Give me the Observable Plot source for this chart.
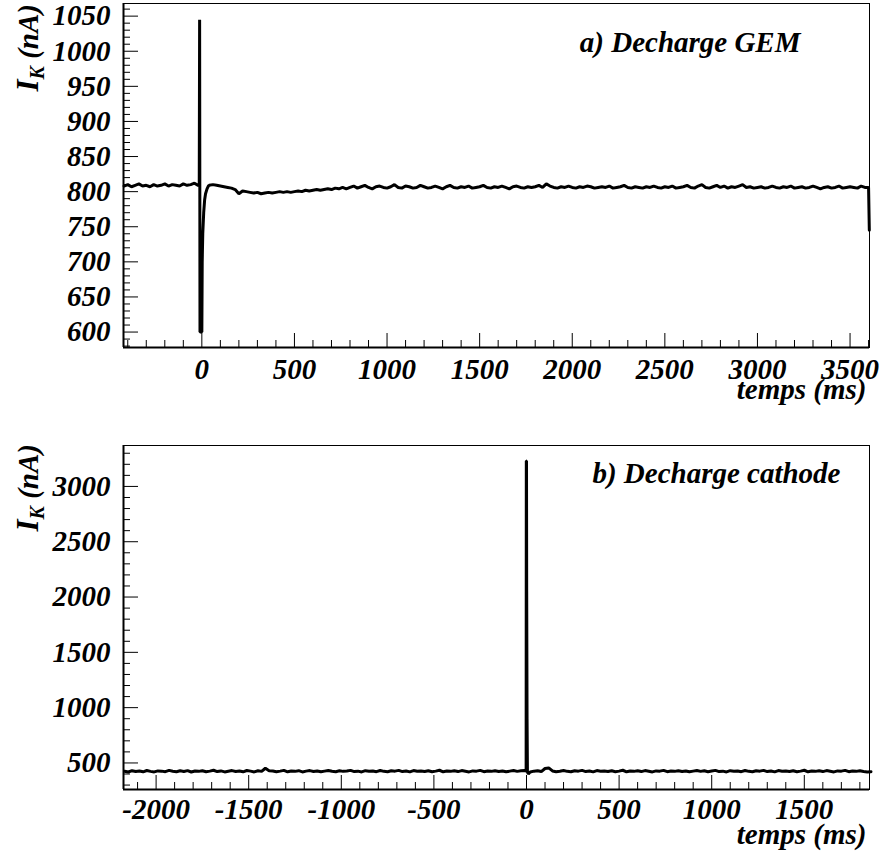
<!DOCTYPE html>
<html><head><meta charset="utf-8">
<script src="https://cdn.jsdelivr.net/npm/d3@7"></script>
<script src="https://cdn.jsdelivr.net/npm/@observablehq/plot@0.6"></script>
<style>
body{margin:0;background:#fff}
#chart svg{display:block}
</style>
</head><body><div id="chart"></div>
<script>
// ---------- Panel a) Decharge GEM ----------
// regular samples every 20 ms from -420 to -20 ms
const gemPreStart = -420, gemStep = 20;
const gemPreValues = [808,810,807,809,811,808,809,807,810,808,809,811,808,810,809,808,811,809,810,812,809];
// discharge region (explicit times)
const gemSpikeT = [-14,-12,-10,-7,-5,-3,0,2,5,10,15,20,28,35];
const gemSpikeV = [809,1045,600,600,705,600,600,700,740,770,788,797,804,808];
// regular samples every 20 ms from 40 to 3600 ms
const gemPostStart = 40;
const gemPostValues = [
  809,810,809,808,807,806,805,803,
  797,801,800,799,798,799,797,798,799,798,799,800,799,800,799,
  800,801,800,802,801,802,803,802,803,804,803,805,804,806,804,
  806,808,805,807,809,806,804,807,808,806,
  805,807,810,806,805,808,807,805,806,809,
  807,805,806,808,806,804,807,809,806,805,
  807,806,808,805,806,807,809,806,805,807,
  806,808,806,804,807,808,806,805,807,806,
  807,809,806,811,808,806,805,807,806,808,
  806,805,807,806,808,807,805,806,807,806,
  808,805,806,807,809,806,805,807,806,805,
  807,806,808,806,805,807,806,808,805,806,
  807,809,806,805,808,810,806,805,807,809,
  806,808,805,807,806,808,810,806,807,805,
  806,807,805,806,808,806,805,807,806,808,
  805,806,807,805,806,808,806,804,806,807,
  805,806,808,805,806,807,806,805,808,806,
  806
];
const gemTailT = [3604];
const gemTailV = [745];

const gemXMajor = [0,500,1000,1500,2000,2500,3000,3500];
const gemYMajor = [600,650,700,750,800,850,900,950,1000,1050];

// ---------- Panel b) Decharge cathode ----------
const catPreStart = -2170, catStep = 20;
const catPreValues = [
  425,418,430,422,427,420,432,424,419,428,
  426,421,433,425,420,429,423,431,418,427,
  424,430,421,426,434,422,428,419,425,431,
  423,427,420,432,426,419,429,424,452,430,
  428,421,426,433,420,427,424,430,419,426,
  431,423,428,420,426,432,425,421,429,424,
  427,433,422,426,419,430,425,428,421,432,
  424,420,429,426,433,422,427,419,431,425,
  428,423,430,421,426,434,420,427,424,429,
  422,431,425,419,428,426,433,421,427,424,
  430,423,428,420,426,432,424,429,431
];
const catSpikeT = [-2,-1,0,1,3,5,10];
const catSpikeV = [428,3230,3230,2050,900,420,400];
const catPostStart = 20;
const catPostValues = [
  418,426,430,422,450,455,428,421,425,431,
  424,420,429,426,433,422,427,419,431,425,
  428,423,430,421,426,434,420,427,424,429,
  422,431,425,419,428,426,433,421,427,424,
  430,423,428,420,426,432,424,429,421,427,
  433,422,426,419,430,425,428,421,432,424,
  420,429,426,433,422,427,419,431,425,428,
  423,430,421,426,434,420,427,424,429,422,
  431,425,419,428,426,433,421,427,424,430,
  423,418,421
];
const catXMajor = [-2000,-1500,-1000,-500,0,500,1000,1500];
const catYMajor = [500,1000,1500,2000,2500,3000];

// ---------- build rows ----------
function buildRows(preStart, step, pre, spikeT, spikeV, postStart, post, tailT = [], tailV = []) {
  const rows = [];
  pre.forEach((v, i) => rows.push({t: preStart + i * step, v}));
  spikeT.forEach((t, i) => rows.push({t, v: spikeV[i]}));
  post.forEach((v, i) => rows.push({t: postStart + i * step, v}));
  tailT.forEach((t, i) => rows.push({t, v: tailV[i]}));
  return rows;
}
const gemRows = buildRows(gemPreStart, gemStep, gemPreValues, gemSpikeT, gemSpikeV, gemPostStart, gemPostValues, gemTailT, gemTailV);
const catRows = buildRows(catPreStart, catStep, catPreValues, catSpikeT, catSpikeV, catPostStart, catPostValues);

function minorTicks(lo, hi, step, majors) {
  return d3.range(Math.ceil(lo / step) * step, hi, step).filter(d => !majors.includes(d));
}

const FONT = "font-family:'Liberation Serif','Times New Roman',serif;font-style:italic;font-weight:bold;font-size:29px;background:#fff;overflow:visible";

function panel({rows, xDomain, yDomain, xMajor, xMinor, yMajor, yMinor, title, titleDx, titleDy, xlabDy, xPad, height, marginTop, marginBottom, ylabY}) {
  const svg = Plot.plot({
    width: 881, height, marginTop, marginBottom, marginLeft: 123, marginRight: 12,
    style: FONT,
    x: {domain: xDomain, label: null},
    y: {domain: yDomain, label: null},
    marks: [
      Plot.frame({stroke: "black", strokeWidth: 1}),
      Plot.ruleX([xDomain[0]], {stroke: "black", strokeWidth: 2}),
      Plot.ruleY([yDomain[0]], {stroke: "black", strokeWidth: 2}),
      Plot.axisX(xMajor, {tickSize: 14, dy: -14, fill: "none", tickFormat: () => "", label: null}),
      Plot.axisX(xMinor, {tickSize: 7, dy: -7, fill: "none", tickFormat: () => "", label: null}),
      Plot.axisY(yMajor, {tickSize: 15, dx: 15, fill: "none", tickFormat: () => "", label: null}),
      Plot.axisY(yMinor, {tickSize: 7, dx: 7, fill: "none", tickFormat: () => "", label: null}),
      Plot.axisX(xMajor, {tickSize: 0, tickPadding: xPad, tickFormat: d => String(d), label: null, fill: "black"}),
      Plot.axisY(yMajor, {tickSize: 0, tickPadding: 13, tickFormat: d => String(d), label: null, fill: "black"}),
      Plot.line(rows, {x: "t", y: "v", stroke: "black", strokeWidth: 3, strokeLinejoin: "miter"}),
      Plot.text([title], {text: d => d, frameAnchor: "top-right", textAnchor: "end", dx: titleDx, dy: titleDy, fill: "black"}),
      Plot.text(["temps (ms)"], {text: d => d, frameAnchor: "bottom-right", textAnchor: "end", dx: -3, dy: xlabDy, fill: "black"})
    ]
  });
  const lab = d3.select(svg).append("text")
    .attr("transform", `translate(38,${ylabY}) rotate(-90)`)
    .attr("text-anchor", "end")
    .attr("font-size", "29px")
    .attr("fill", "black");
  lab.append("tspan").attr("font-size", "31px").text("I");
  lab.append("tspan").attr("font-size", "20px").attr("dy", 6).text("K");
  lab.append("tspan").attr("dy", -6).text(" (nA)");
  return svg;
}

const panelA = panel({
  rows: gemRows, xDomain: [-423, 3605], yDomain: [578, 1068],
  xMajor: gemXMajor, xMinor: minorTicks(-423, 3605, 100, gemXMajor),
  yMajor: gemYMajor, yMinor: minorTicks(578, 1068, 10, gemYMajor),
  title: "a) Decharge GEM", titleDx: -69, titleDy: 28, xlabDy: 51, xPad: 11,
  height: 420, marginTop: 3, marginBottom: 73, ylabY: 4
});
const panelB = panel({
  rows: catRows, xDomain: [-2176, 1852], yDomain: [260, 3370],
  xMajor: catXMajor, xMinor: minorTicks(-2176, 1852, 100, catXMajor),
  yMajor: catYMajor, yMinor: minorTicks(260, 3370, 100, catYMajor),
  title: "b) Decharge cathode", titleDx: -29, titleDy: 17, xlabDy: 54, xPad: 9,
  height: 438, marginTop: 25, marginBottom: 69, ylabY: 24
});
document.getElementById("chart").append(panelA, panelB);
</script></body></html>
